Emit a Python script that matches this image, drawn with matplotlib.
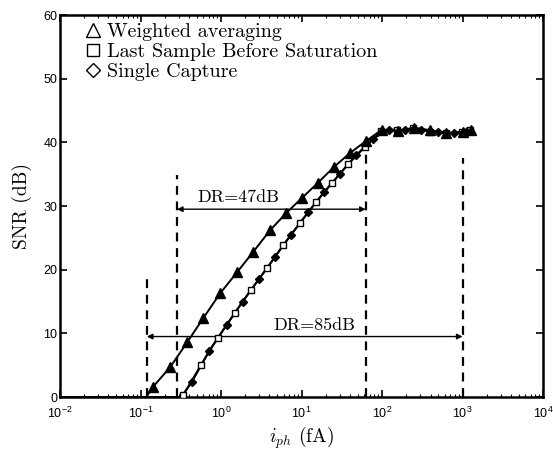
import matplotlib
matplotlib.use("Agg")
import matplotlib.pyplot as plt
from matplotlib.lines import Line2D
from matplotlib.ticker import LogLocator, NullFormatter

# ---- data ----
wa_x = [0.01, 0.118, 0.143, 0.234, 0.380, 0.603, 0.977, 1.585, 2.512, 4.074, 6.457,
        10.0, 15.85, 25.12, 39.81, 63.1, 100, 158.5, 251.2, 398.1, 631, 1000, 1259]
wa_y = [0, 0, 1.6, 4.7, 8.6, 12.4, 16.3, 19.6, 22.8, 26.2, 28.9,
        31.2, 33.6, 36.1, 38.3, 40.2, 42.0, 41.8, 42.3, 41.9, 41.4, 41.7, 42.0]

ls_x = [0.01, 0.32, 0.339, 0.562, 0.912, 1.479, 2.344, 3.715, 5.888, 9.55, 15.14,
        23.99, 38.02, 61.66, 97.7, 154.9, 245.5, 389.0, 616.6, 977.2, 1230]
ls_y = [0, 0, 0.3, 5.0, 9.3, 13.2, 16.8, 20.2, 23.8, 27.3, 30.6,
        33.6, 36.6, 39.3, 41.8, 41.9, 42.2, 41.7, 41.4, 41.6, 42.0]

sc_x = [0.01, 0.32, 0.437, 0.708, 1.175, 1.862, 2.951, 4.677, 7.413, 12.02, 19.05,
        30.2, 47.86, 77.6, 123, 195, 309, 490, 776, 1122]
sc_y = [0, 0, 2.4, 7.2, 11.3, 15.0, 18.5, 22.0, 25.5, 29.0, 32.2,
        35.1, 38.0, 40.6, 42.0, 41.9, 42.0, 41.6, 41.5, 41.8]

# dashed markers: (x, top)
dash_x = [0.12, 0.284, 62.7, 1000]
dash_top = [19.5, 34.8, 40.0, 37.5]

dr_labels = ["DR=47dB", "DR=85dB"]
dr_from = [0.284, 0.12]
dr_to = [62.7, 1000]
dr_level = [29.5, 9.5]
dr_text_x = [1.63, 14.3]
dr_text_y = [31.4, 11.3]

legend_labels = ["Weighted averaging", "Last Sample Before Saturation", "Single Capture"]

SERIF = "cmr10"

fig = plt.figure(figsize=(5.53, 4.51), dpi=100)
ax = fig.add_axes([0.1085, 0.1197, 0.982 - 0.1085, 0.9667 - 0.1197])

ax.plot(sc_x, sc_y, color="black", lw=1.4, marker="D", ms=4, mfc="black",
        mec="black", markevery=list(range(2, len(sc_x))), zorder=3)
ax.plot(ls_x, ls_y, color="black", lw=1.4, marker="s", ms=4.5, mfc="white",
        mec="black", mew=1.0, markevery=list(range(2, len(ls_x))), zorder=4)
ax.plot(wa_x, wa_y, color="black", lw=1.4, marker="^", ms=6.5, mfc="black",
        mec="black", markevery=list(range(2, len(wa_x))), zorder=4)

for x, top in zip(dash_x, dash_top):
    ax.plot([x, x], [0, top], color="black", lw=1.6, ls=(0, (4, 3)), zorder=2)

for lab, x0, x1, yl, tx, ty in zip(dr_labels, dr_from, dr_to, dr_level, dr_text_x, dr_text_y):
    ax.annotate("", xy=(x0, yl), xytext=(x1, yl),
                arrowprops=dict(arrowstyle="<|-|>", color="black", lw=1.0,
                                mutation_scale=8, shrinkA=0, shrinkB=0))
    ax.text(tx, ty, lab, family=SERIF, fontsize=13, ha="center", va="center")

ax.set_xscale("log")
ax.set_xlim(0.01, 10000)
ax.set_ylim(0, 60)
ax.set_yticks([0, 10, 20, 30, 40, 50, 60])
ax.xaxis.set_major_locator(LogLocator(base=10, numticks=10))
ax.xaxis.set_minor_locator(LogLocator(base=10, subs=range(2, 10), numticks=100))
ax.xaxis.set_minor_formatter(NullFormatter())
ax.tick_params(which="both", direction="in", top=True, right=True)
ax.tick_params(which="major", length=5, width=1.2, labelsize=9)
ax.tick_params(axis="x", which="major", pad=6)
ax.tick_params(axis="y", which="major", pad=2)
ax.tick_params(which="minor", length=2.5, width=0.8)
for lbl in ax.get_xticklabels() + ax.get_yticklabels():
    lbl.set_family("Liberation Sans")
for s in ax.spines.values():
    s.set_linewidth(1.8)

ax.set_ylabel("SNR (dB)", family=SERIF, fontsize=14, labelpad=8)
ax.set_xlabel(r"$i_{ph}$ (fA)", family=SERIF, fontsize=14, math_fontfamily="cm", labelpad=3)

handles = [
    Line2D([], [], ls="none", marker="^", ms=10, mfc="white", mec="black", mew=1.0),
    Line2D([], [], ls="none", marker="s", ms=8, mfc="white", mec="black", mew=1.0),
    Line2D([], [], ls="none", marker="D", ms=7, mfc="white", mec="black", mew=1.0),
]
leg = ax.legend(handles, legend_labels, loc="upper left", frameon=False,
                prop={"family": SERIF, "size": 14.5}, handlelength=0.8,
                handletextpad=0.3, labelspacing=0.1, borderaxespad=0.0,
                bbox_to_anchor=(0.035, 1.0))

fig.savefig("out.png", dpi=100)
